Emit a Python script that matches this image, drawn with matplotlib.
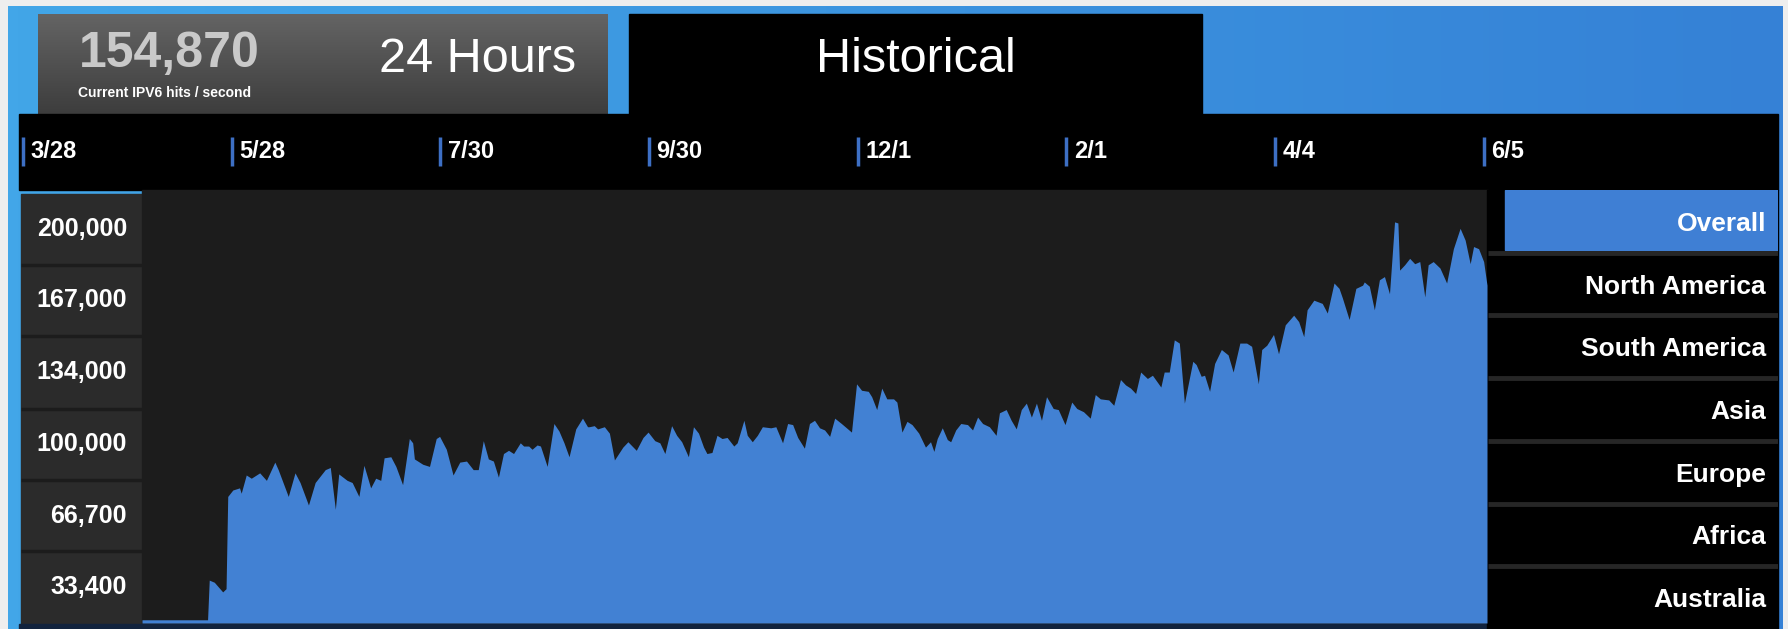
#!/usr/bin/env python3
"""IPv6 hits dashboard -- 'Historical' view: daily hits/second as a filled area,
with the header tabs, date strip, value rows and region menu drawn around it."""
import matplotlib.pyplot as plt
from matplotlib.colors import LinearSegmentedColormap
from matplotlib.patches import Rectangle
from matplotlib.transforms import blended_transform_factory
import numpy as np

plt.rcParams["font.family"] = ["Liberation Sans", "DejaVu Sans"]

W, H = 1788, 629

# ---- data -------------------------------------------------------------------
CURRENT_HITS = 154870
CURRENT_LABEL = "Current IPV6 hits / second"
TABS = ["24 Hours", "Historical"]

DAYS = [
    0, 19.5, 20, 21.5, 24, 25, 25.5, 27, 29, 29.5, 31, 32.5, 35, 37, 39.5,
    40.5, 43.5, 45.5, 47, 49.5, 51.5, 54.5, 56, 57.5, 58.5, 61, 62.5, 64.5, 66,
    68, 69.5, 71, 72, 74, 75.5, 77.5, 79.5, 80.5, 81, 83.5, 85.5, 87.5, 88.5,
    90.5, 92.5, 94.5, 96.5, 98.5, 100, 101.5, 103, 104.5, 106, 107.5, 109,
    110.5, 112.5, 113.5, 115, 116, 117.5, 118.5, 120.5, 122.5, 124, 125.5, 127,
    129, 131, 132.5,
    133, 134.5, 135.5, 137.5, 139, 140.5, 143, 144.5, 147, 149, 150.5, 152.5,
    154, 155.5, 157.5, 159, 160.5, 162.5, 164, 165.5, 167, 168, 169.5, 171,
    172.5, 174, 176, 177, 179, 180, 181.5, 183, 184.5, 187, 188.5, 190.5, 192,
    193.5, 195, 197, 198.5, 200,
    201.5, 203, 204.5, 206, 208, 209.5, 211, 212.5, 214, 216, 217, 218.5, 220,
    221.5, 223.5, 224.5, 226, 227.5, 229, 231, 233, 234.5, 235.5, 236.5, 238,
    239.5, 240.5, 242, 243.5, 245.5, 247, 248.5, 250, 252, 254, 255, 257,
    258.5, 260, 261.5, 263, 264.5, 266,
    267.5, 269, 271, 272.5, 274.5, 276.5, 278, 280, 282, 283.5, 285, 287.5,
    289, 291, 292.5, 294, 295.5, 297, 299, 300.5, 303, 304, 305.5, 307, 308.5,
    310, 312.5, 313.5, 315, 316, 317.5, 319, 321, 323, 324.5, 326.5, 328.5,
    330, 332, 333,
    334.5, 336.5, 338, 340, 342.5, 344, 345.5, 346.5, 348.5, 351, 352.5,
    354.5, 356, 357, 359, 361, 363, 363.5, 365, 366.5, 368, 369.5, 371, 372.5,
    373.5, 374, 375.5, 377, 378.5, 380, 381.5, 382.5, 384, 386, 388, 390, 392,
    393.5, 395, 396, 397.5, 399, 400,
]
HITS_K = [
    1.5, 1.5, 20, 19, 14.5, 16, 59, 62, 63, 60.5, 69, 67.5, 70, 66.5, 75,
    71.5, 59, 70, 65.5, 55, 65.5, 71.5, 72.5, 53, 69.5, 66.5, 65.5, 59, 73.5,
    63, 67.5, 66.5, 77, 77.5, 73, 64.5, 86, 84, 76.5, 74, 73, 86, 87,
    81, 69, 75, 75.5, 71.5, 71.5, 85, 76.5, 75.5, 68, 79, 80.5,
    79, 84, 82.5, 82.5, 81, 83, 82.5, 73, 93, 89.5, 84, 77.5,
    90.5, 95.5, 91.5,
    91.5, 92, 90.5, 91.5, 88.5, 76, 82, 84.5, 80.5, 86.5, 89, 85,
    84, 79, 92, 87.5, 84.5, 77.5, 91.5, 88.5, 82, 79, 79.5, 87.5,
    86, 86.5, 82.5, 84, 94.5, 87.5, 84.5, 87.5, 91.5, 91, 91.5, 84, 93,
    92.5, 86.5, 81.5, 93, 94.5,
    91, 90, 87, 95.5, 93, 91, 89, 111.5, 108.5, 108, 105.5, 99.5, 109.5,
    104.5, 104.5, 103, 89, 94, 92.5, 88.5, 82, 84.5, 80, 86, 91,
    85.5, 84.5, 90, 93, 92.5, 90, 96, 93, 91.5, 87.5, 98, 99.5,
    94.5, 90.5, 99.5, 102.5, 96, 102.5,
    94.5, 105.5, 100, 99.5, 92.5, 103, 100, 98.5, 95.5, 106.5, 104.5, 104,
    101.5, 113.5, 111, 109.5, 107, 117, 114, 115.5, 110, 117, 117, 132, 130.5,
    102.5, 122, 120.5, 115, 115.5, 108, 121, 127.5, 125, 117, 130.5, 130.5,
    129, 111.5, 127.5,
    129.5, 134.5, 125.5, 139, 143.5, 140.5, 133.5, 146, 150.5, 149, 144.5,
    158.5, 156, 151.5, 141.5, 156, 157.5, 159, 157, 146, 160, 161.5, 153.5, 187,
    186.5, 164.5, 167, 170, 167.5, 168.5, 152, 167, 168.5, 165.5, 158.5, 174.5, 184,
    178.5, 167.5, 175.5, 174.5, 168.5, 157.5,
]

Y_TICKS = [33400, 66700, 100000, 134000, 167000, 200000]
DATE_LABELS = ["3/28", "5/28", "7/30", "9/30", "12/1", "2/1", "4/4", "6/5"]
REGIONS = ["Overall", "North America", "South America", "Asia", "Europe",
           "Africa", "Australia"]

# ---- colours ----------------------------------------------------------------
AREA_BLUE = "#4281d3"
PLOT_BG = "#1c1c1c"
LABEL_BG = "#2b2b2b"
MENU_SEL = "#3f7fd4"
TICK_BLUE = "#3d6fc4"


def px_axes(fig, x0, y0, x1, y1):
    """Axes placed by pixel box (top-left origin)."""
    return fig.add_axes([x0 / W, 1 - y1 / H, (x1 - x0) / W, (y1 - y0) / H])


def gradient(ax, x0, y0, x1, y1, c0, c1, horizontal=True):
    cmap = LinearSegmentedColormap.from_list("g", [c0, c1])
    g = np.linspace(0, 1, 256)
    g = g[None, :] if horizontal else g[:, None]
    ax.imshow(g, cmap=cmap, extent=(x0, x1, y1, y0), aspect="auto",
              interpolation="bicubic", zorder=0)


def draw_frame(fig):
    bg = fig.add_axes([0, 0, 1, 1])
    bg.set_xlim(0, W)
    bg.set_ylim(H, 0)
    bg.axis("off")

    gradient(bg, 8, 6, 1783, H, "#42a6e8", "#3581d6")
    gradient(bg, 38, 14, 608, 114, "#646464", "#3d3d3d", horizontal=False)
    bg.add_patch(Rectangle((629, 14), 573, 100, color="black", zorder=1))
    bg.add_patch(Rectangle((19, 114), 1759, 76, color="black", zorder=1))
    bg.add_patch(Rectangle((21, 194), 121, 430, color=LABEL_BG, zorder=1))
    bg.add_patch(Rectangle((142, 190), 1346, 434, color=PLOT_BG, zorder=1))
    bg.add_patch(Rectangle((19, 624), 1469, 5, color="#12233d", zorder=1))
    bg.add_patch(Rectangle((1487, 190), 291, 439, color="black", zorder=1))

    bg.text(79, 67, f"{CURRENT_HITS:,}", fontsize=36, fontweight="bold",
            color="#c9c9c9", va="baseline", zorder=2)
    bg.text(78, 97, CURRENT_LABEL, fontsize=10, fontweight="bold",
            color="white", va="baseline", zorder=2)
    bg.text(478, 60, TABS[0], fontsize=35, color="white", ha="center",
            va="center", zorder=2)
    bg.text(916, 60, TABS[1], fontsize=35, color="white", ha="center",
            va="center", zorder=2)
    bg.set_zorder(0)


def draw_date_strip(fig):
    ax = px_axes(fig, 19, 114, 1778, 190)
    ax.set_xlim(-0.02, 8.41)
    ax.set_ylim(0, 1)
    ax.axis("off")
    idx = np.arange(len(DATE_LABELS))
    ax.vlines(idx, 0.32, 0.70, color=TICK_BLUE, lw=2.5)
    for i, lab in zip(idx, DATE_LABELS):
        ax.text(i + 0.035, 0.5, lab, fontsize=17, fontweight="bold",
                color="white", va="center")


def draw_area(fig):
    ax = px_axes(fig, 142, 194, 1487, 623)
    days = np.array(DAYS)
    hits = np.array(HITS_K) * 1000
    ax.fill_between(days, hits, color=AREA_BLUE, lw=0)
    ax.set_xlim(days.min(), days.max())
    ax.set_ylim(0, max(Y_TICKS))
    ax.axis("off")


def draw_value_rows(fig):
    ax = px_axes(fig, 21, 194, 142, 623)
    ax.set_xlim(0, 1)
    ax.set_ylim(0, max(Y_TICKS))
    ax.axis("off")
    ax.hlines(Y_TICKS[:-1], 0, 1, color="#1c1c1c", lw=2.5)
    lo = 0
    for v in Y_TICKS:
        ax.text(0.876, (lo + v) / 2, f"{v:,}", fontsize=18, fontweight="bold",
                color="white", ha="right", va="center")
        lo = v


def draw_menu(fig):
    ax = px_axes(fig, 1488, 190, 1778, 629)
    ax.set_xlim(0, 1)
    ax.set_ylim(len(REGIONS), 0)
    ax.axis("off")
    ax.add_patch(Rectangle((0.059, 0), 0.941, 0.96, color=MENU_SEL))
    ax.hlines(np.arange(1, len(REGIONS)), 0, 1, color="#262626", lw=3.5)
    for i, name in enumerate(REGIONS):
        ax.text(0.959, i + 0.5, name, fontsize=19, fontweight="bold",
                color="white", ha="right", va="center_baseline")


def main():
    fig = plt.figure(figsize=(W / 100, H / 100), dpi=100, facecolor="#eeeeee")
    draw_frame(fig)
    draw_date_strip(fig)
    draw_value_rows(fig)
    draw_area(fig)
    draw_menu(fig)
    fig.savefig("out.png", dpi=100, facecolor=fig.get_facecolor())
    plt.close(fig)


if __name__ == "__main__":
    main()
